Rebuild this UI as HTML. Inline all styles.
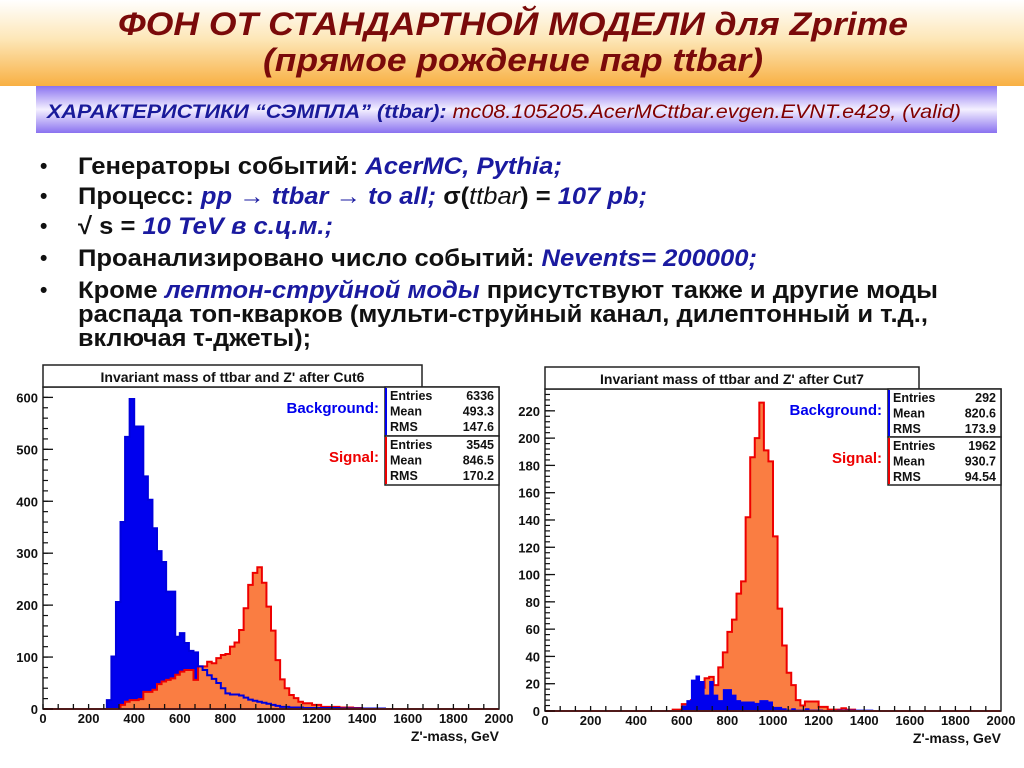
<!DOCTYPE html>
<html><head><meta charset="utf-8"><style>
html,body{margin:0;padding:0;background:#fff;}
svg{display:block;font-family:"Liberation Sans",sans-serif;}
</style></head><body>
<svg id="page" width="1024" height="768" viewBox="0 0 1024 768" xmlns="http://www.w3.org/2000/svg">
<defs>
<linearGradient id="og" x1="0" y1="0" x2="0" y2="1"><stop offset="0" stop-color="#fff"/><stop offset="0.45" stop-color="#fde7b8"/><stop offset="1" stop-color="#f8b043"/></linearGradient>
<linearGradient id="pg" x1="0" y1="0" x2="0" y2="1"><stop offset="0" stop-color="#8a72f0"/><stop offset="0.5" stop-color="#f4f0ff"/><stop offset="1" stop-color="#8a72f0"/></linearGradient>
</defs>
<rect x="0" y="0" width="1024" height="86" fill="url(#og)"/>
<g fill="#7a0a0a" font-weight="bold" font-style="italic" font-size="32" text-anchor="middle">
<text x="513" y="35" textLength="790" lengthAdjust="spacingAndGlyphs">ФОН ОТ СТАНДАРТНОЙ МОДЕЛИ для Zprime</text>
<text x="513" y="71" textLength="500" lengthAdjust="spacingAndGlyphs">(прямое рождение пар ttbar)</text>
</g>
<rect x="36" y="86" width="961" height="47" fill="url(#pg)"/>
<text x="47" y="118" font-size="19" font-style="italic" font-weight="bold" textLength="914" lengthAdjust="spacingAndGlyphs"><tspan fill="#1a1a9a">ХАРАКТЕРИСТИКИ “СЭМПЛА” (ttbar): </tspan><tspan fill="#800000" font-weight="normal">mc08.105205.AcerMCttbar.evgen.EVNT.e429, (valid)</tspan></text>

<g font-size="24" font-weight="bold" fill="#111">
<text x="40" y="173" font-size="21">•</text><text x="40" y="203" font-size="21">•</text><text x="40" y="233" font-size="21">•</text><text x="40" y="265" font-size="21">•</text><text x="40" y="297" font-size="21">•</text>
<text x="78" y="174" textLength="484" lengthAdjust="spacingAndGlyphs">Генераторы событий: <tspan fill="#1a1aa0" font-style="italic">AcerMC, Pythia;</tspan></text>
<text x="78" y="204" textLength="569" lengthAdjust="spacingAndGlyphs">Процесс: <tspan fill="#1a1aa0" font-style="italic">pp → ttbar → to all;</tspan> σ(<tspan font-style="italic" font-weight="normal">ttbar</tspan>) = <tspan fill="#1a1aa0" font-style="italic">107 pb;</tspan></text>
<text x="78" y="234" textLength="255" lengthAdjust="spacingAndGlyphs">√ s = <tspan fill="#1a1aa0" font-style="italic">10 TeV в с.ц.м.;</tspan></text>
<text x="78" y="266" textLength="679" lengthAdjust="spacingAndGlyphs">Проанализировано число событий: <tspan fill="#1a1aa0" font-style="italic">Nevents= 200000;</tspan></text>
<text x="78" y="298" textLength="860" lengthAdjust="spacingAndGlyphs">Кроме <tspan fill="#1a1aa0" font-style="italic">лептон-струйной моды</tspan> присутствуют также и другие моды</text>
<text x="78" y="322" textLength="850" lengthAdjust="spacingAndGlyphs">распада топ-кварков (мульти-струйный канал, дилептонный и т.д.,</text>
<text x="78" y="346" textLength="233" lengthAdjust="spacingAndGlyphs">включая τ-джеты);</text>
</g>
<g id="charts"></g>
</svg>
<script>
// Left chart data (after Cut6), 20 GeV bins
const leftBgStart = 280;
const leftBgValues = [17,101,206,360,524,597,544,544,448,403,348,304,283,226,226,139,146,127,112,109,82,75,65,58,50,40,30,28,28,26,22,18,16,14,12,10,8,6,4,4,3,3,3,2,2,2,2,2,2,2,2,1,1,1,1,1,1,1,1,1,1];
const leftSigStart = 340;
const leftSigValues = [8,14,17,17,19,33,33,37,48,53,56,59,66,72,75,75,56,82,82,91,88,98,104,106,120,128,152,194,239,262,273,243,197,151,94,57,40,27,21,14,11,11,8,8,4,4,4,4,3,3,3,2,2,1,1,1];
const leftYTicks = [0,100,200,300,400,500,600];
// Right chart data (after Cut7)
const rightBgStart = 600;
const rightBgValues = [4,8,23,26,22,12,22,12,8,16,16,12,8,7,7,7,6,8,8,7,3,3,2,1,2,1,1,2,1,1,1,0,0,0,1,1,1,1,1,1,1,1];
const rightSigStart = 560;
const rightSigValues = [1,1,5,5,8,17,17,24,25,19,32,43,58,67,86,95,142,186,200,226,191,183,128,75,48,28,19,8,4,7,7,7,3,3,1,1,1,2,1,1];
const rightYTicks = [0,20,40,60,80,100,120,140,160,180,200,220];
const xTicks = [0,200,400,600,800,1000,1200,1400,1600,1800,2000];
const leftStats = [["Entries","6336"],["Mean","493.3"],["RMS","147.6"]];
const leftSigStats = [["Entries","3545"],["Mean","846.5"],["RMS","170.2"]];
const rightStats = [["Entries","292"],["Mean","820.6"],["RMS","173.9"]];
const rightSigStats = [["Entries","1962"],["Mean","930.7"],["RMS","94.54"]];

const NS="http://www.w3.org/2000/svg";
const root=document.getElementById('charts');
function mk(tag,attrs,parent){const e=document.createElementNS(NS,tag);for(const k in attrs)e.setAttribute(k,attrs[k]);(parent||root).appendChild(e);return e;}

function drawChart(c){
  const g=mk('g',{});
  
  
  const X=v=>c.x0+(v/2000)*(c.x1-c.x0);
  const Y=v=>c.yb-(v/c.ymax)*(c.yb-c.yt);
  function hist(start,vals,closed){
    let d='M'+X(start)+','+Y(0);
    vals.forEach((v,i)=>{d+=' L'+X(start+i*20)+','+Y(v)+' L'+X(start+(i+1)*20)+','+Y(v);});
    d+=' L'+X(start+vals.length*20)+','+Y(0);
    if(closed)d+=' Z';
    return d;
  }
  mk('rect',{x:c.x0,y:c.yt,width:c.x1-c.x0,height:c.yb-c.yt,fill:'#fff',stroke:'none'},g);
  c.order.forEach(L=>{
    let p;
    if(L==='bgFill'){p=mk('path',{d:hist(c.bgStart,c.bgVals,true),fill:'#0000ee',stroke:'none'},g);}
    if(L==='sigFill'){p=mk('path',{d:hist(c.sigStart,c.sigVals,true),fill:'#fa7d42',stroke:'none'},g);}
    if(L==='sigLine'){p=mk('path',{d:hist(c.sigStart,c.sigVals,false),fill:'none',stroke:'#ee0000','stroke-width':2},g);}
    if(L==='bgLine'){p=mk('path',{d:hist(c.bgStart,c.bgVals,false),fill:'none',stroke:'#0000dd','stroke-width':2},g);}

  });
  mk('line',{x1:c.x0,y1:c.yb,x2:c.x1,y2:c.yb,stroke:'#dd0000','stroke-width':2},g);
  mk('rect',{x:c.x0,y:c.yt,width:c.x1-c.x0,height:c.yb-c.yt,fill:'none',stroke:'#222','stroke-width':1.5},g);
  for(let v=0;v<=2000;v+=200/3){mk('line',{x1:X(v),y1:c.yb,x2:X(v),y2:c.yb-5,stroke:'#111','stroke-width':1.3},g);}
  xTicks.forEach(v=>{
    const t=mk('text',{x:X(v),y:c.yb+14,'font-size':13,'font-weight':'bold','text-anchor':'middle',fill:'#111'},g);
    
    
    t.textContent=v;
  });
  const xt=mk('text',{x:c.x1,y:c.yb+32,'font-size':14,'font-weight':'bold','text-anchor':'end',fill:'#111'},g);
  
  
  xt.textContent="Z'-mass, GeV";
  for(let v=0;v<=c.ymax;v+=c.minor){mk('line',{x1:c.x0,y1:Y(v),x2:c.x0+5,y2:Y(v),stroke:'#111','stroke-width':1.2},g);}
  c.yTicks.forEach(v=>{
    mk('line',{x1:c.x0,y1:Y(v),x2:c.x0+10,y2:Y(v),stroke:'#111','stroke-width':1.3},g);
    const t=mk('text',{x:c.x0-5,y:Y(v)+5,'font-size':13,'font-weight':'bold','text-anchor':'end',fill:'#111'},g);
    
    
    t.textContent=v;
  });
  const tb=mk('rect',{x:c.x0,y:c.tt,width:c.tw,height:c.yt-c.tt,fill:'#fff',stroke:'#222','stroke-width':1.5},g);
  
  
  const tt=mk('text',{x:c.x0+c.tw/2,y:c.yt-5,'font-size':14,'font-weight':'bold','text-anchor':'middle',fill:'#111'},g);
  
  
  tt.textContent=c.title;
  [[c.bgStats,'#0000ee',c.yt,'Background:'],[c.sigStats,'#ee0000',c.yt+c.sh,'Signal:']].forEach(([st,col,y0,lab])=>{
    const b=mk('rect',{x:c.sx,y:y0,width:c.x1-c.sx,height:c.sh,fill:'#fff',stroke:'#222','stroke-width':1.5},g);
    
    
    mk('line',{x1:c.sx+1,y1:y0+1,x2:c.sx+1,y2:y0+c.sh-1,stroke:col,'stroke-width':2},g);
    st.forEach((r,i)=>{
      const yy=y0+13+i*15.5;
      const a=mk('text',{x:c.sx+5,y:yy,'font-size':12.5,'font-weight':'bold',fill:'#111'},g);a.textContent=r[0];
      const b2=mk('text',{x:c.x1-5,y:yy,'font-size':12.5,'font-weight':'bold','text-anchor':'end',fill:'#111'},g);b2.textContent=r[1];
    });
    const l=mk('text',{x:c.sx-6,y:y0+26,'font-size':15,'font-weight':'bold','text-anchor':'end',fill:col},g);
    
    
    l.textContent=lab;
  });
}
drawChart({name:'left-histogram',x0:43,x1:499,yt:387,yb:709,ymax:620,minor:20,yTicks:leftYTicks,
  bgStart:leftBgStart,bgVals:leftBgValues,sigStart:leftSigStart,sigVals:leftSigValues,
  order:['bgFill','sigFill','sigLine','bgLine'],tt:365,tw:379,title:"Invariant mass of ttbar and Z' after Cut6",
  sx:385,sh:49,bgStats:leftStats,sigStats:leftSigStats});
drawChart({name:'right-histogram',x0:545,x1:1001,yt:389,yb:711,ymax:236,minor:4,yTicks:rightYTicks,
  bgStart:rightBgStart,bgVals:rightBgValues,sigStart:rightSigStart,sigVals:rightSigValues,
  order:['sigFill','sigLine','bgFill'],tt:367,tw:374,title:"Invariant mass of ttbar and Z' after Cut7",
  sx:888,sh:48,bgStats:rightStats,sigStats:rightSigStats});
</script>
</body></html>
